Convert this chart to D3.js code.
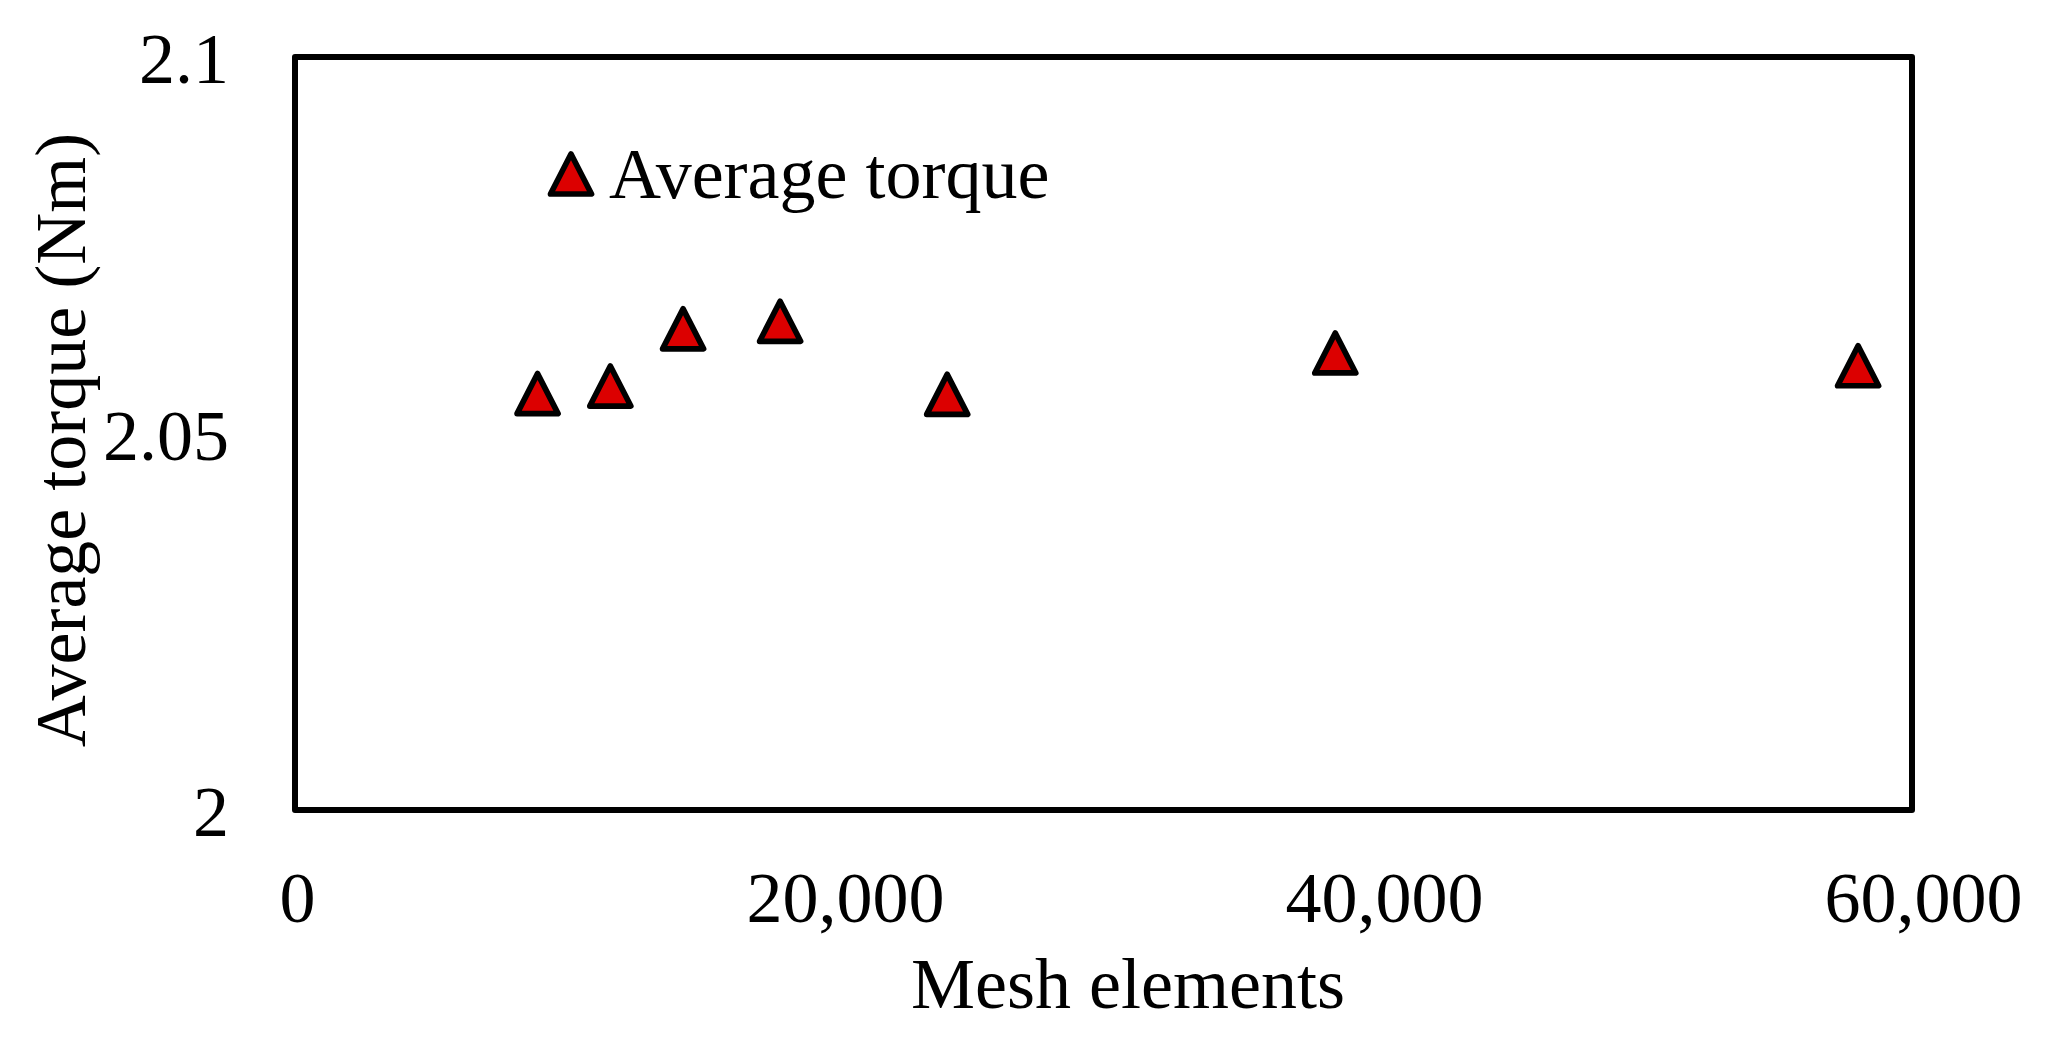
<!DOCTYPE html>
<html>
<head>
<meta charset="utf-8">
<script src="https://cdn.jsdelivr.net/npm/d3@7"></script>
<style>
  body { margin: 0; background: #fff; }
  svg { display: block; }
  text { font-family: "Liberation Serif", "Times New Roman", serif; fill: #000; }
</style>
</head>
<body>
<svg id="chart" width="2048" height="1044"></svg>
<script>
const meshElements = [9000, 11700, 14400, 18000, 24200, 38600, 58000]
const avgTorque = [2.0553, 2.0563, 2.0639, 2.0649, 2.0552, 2.0607, 2.0590]
const xTicks = [0, 20000, 40000, 60000]
const yTicks = [2, 2.05, 2.1]

const width = 2048, height = 1044
const plotLeft = 295, plotRight = 1912, plotTop = 57, plotBottom = 810
const fontSize = 72

const svg = d3.select('#chart')

svg.append('rect')
    .attr('width', width)
    .attr('height', height)
    .attr('fill', '#fff')

const x = d3.scaleLinear([0, 60000], [plotLeft, plotRight])
const y = d3.scaleLinear([2, 2.1], [plotBottom, plotTop])

// triangle marker, centred on its bounding box
const tri = 'M0,-20L20.5,20L-20.5,20Z'

// axes (no domain line, no tick marks, the frame is drawn separately)
const xAxis = d3.axisBottom(x)
    .tickValues(xTicks)
    .tickFormat(d3.format(','))
    .tickSize(0)
    .tickPadding(61)

svg.append('g')
    .attr('transform', `translate(0, ${plotBottom})`)
    .call(xAxis)
    .call(g => g.select('.domain').remove())
    .selectAll('text')
    .attr('font-size', fontSize)
    .attr('font-family', null)
    .attr('dx', function(){ return this.getComputedTextLength() * 0.055 })

const yAxis = d3.axisLeft(y)
    .tickValues(yTicks)
    .tickFormat(d3.format('~g'))
    .tickSize(0)
    .tickPadding(66)

svg.append('g')
    .attr('transform', `translate(${plotLeft}, 0)`)
    .call(yAxis)
    .call(g => g.select('.domain').remove())
    .selectAll('text')
    .attr('font-size', fontSize)
    .attr('font-family', null)
    .attr('dy', '0.36em')

// plot frame
svg.append('rect')
    .attr('x', plotLeft)
    .attr('y', plotTop)
    .attr('width', plotRight - plotLeft)
    .attr('height', plotBottom - plotTop)
    .attr('fill', 'none')
    .attr('stroke', '#000')
    .attr('stroke-width', 6)
    .attr('stroke-linejoin', 'round')

// points
svg.append('g')
    .selectAll('path')
    .data(meshElements)
    .join('path')
    .attr('d', tri)
    .attr('transform', (d, i) => `translate(${x(d)}, ${y(avgTorque[i])})`)
    .attr('fill', '#dc0000')
    .attr('stroke', '#000')
    .attr('stroke-width', 5.7)
    .attr('stroke-linejoin', 'round')

// legend
const legend = svg.append('g')
legend.append('path')
    .attr('d', tri)
    .attr('transform', 'translate(571, 174)')
    .attr('fill', '#dc0000')
    .attr('stroke', '#000')
    .attr('stroke-width', 5.7)
    .attr('stroke-linejoin', 'round')
legend.append('text')
    .text('Average torque')
    .attr('x', 609)
    .attr('y', 198)
    .attr('font-size', fontSize)

// axis titles
svg.append('text')
    .text('Mesh elements')
    .attr('x', 1128)
    .attr('y', 1008)
    .attr('text-anchor', 'middle')
    .attr('font-size', fontSize)

svg.append('text')
    .text('Average torque (Nm)')
    .attr('text-anchor', 'middle')
    .attr('font-size', fontSize)
    .attr('transform', 'translate(85, 440) rotate(-90)')
</script>
</body>
</html>
